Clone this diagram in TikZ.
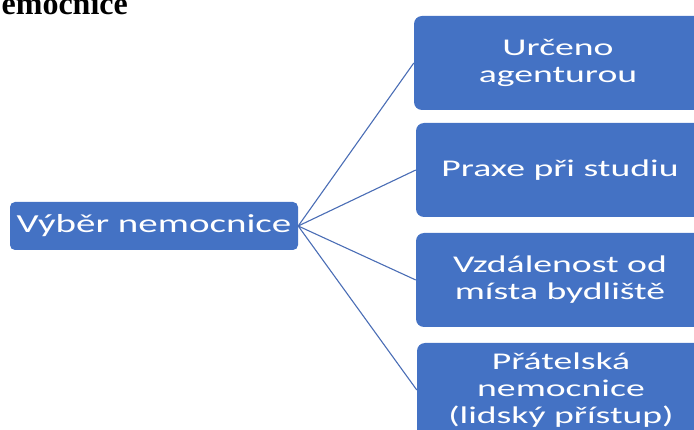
\documentclass[tikz,border=0pt]{standalone}
\usepackage{fontspec}
\usepackage{tikz}
\usetikzlibrary{positioning}
\newfontfamily\boxfont[FakeStretch=1.5]{Carlito}
\newfontfamily\reasonfont[FakeStretch=1.57]{Carlito}
\newfontfamily\titlefont{Liberation Serif}
\definecolor{boxblue}{HTML}{4472C4}
\definecolor{spokeblue}{HTML}{4A6DB5}

\begin{document}
\begin{tikzpicture}[x=1pt,y=1pt]
                    \tikzset{leftbox/.style={fill=boxblue, text=white, rounded corners=5pt, minimum width=288pt, minimum height=48pt, inner sep=0pt, font=\boxfont\fontsize{26}{30}\selectfont}}
                    \tikzset{rightbox/.style={fill=boxblue, text=white, rounded corners=8pt, minimum width=288pt, minimum height=94pt, inner sep=0pt, align=center, font=\reasonfont\fontsize{24}{27}\selectfont}}
                    \tikzset{spoke/.style={draw=spokeblue, line width=1.1pt}}
                    \useasboundingbox (0,0) rectangle (694,-430);
                    % nadpis (oriznuty)
                    \node [anchor=base east, inner sep=0pt, font=\titlefont\bfseries\fontsize{32}{36}\selectfont] (nadpis) at (128,-15) {Nemocnice};
                    % hlavni uzel
                    \node [leftbox] (vyber) at (154,-226) {Výběr nemocnice};
                    % duvody
                    \node [rightbox] (urceno) at (558,-63) {Určeno\\agenturou};
                    \node [rightbox] (praxe) at (560,-170) {Praxe při studiu};
                    \node [rightbox] (vzdalenost) at (560,-280) {Vzdálenost od\\místa bydliště};
                    \node [rightbox] (pratelska) at (561,-390) {Přátelská\\nemocnice\\(lidský přístup)};
                    % spojnice
                    \draw [spoke] (vyber.east) -- (urceno.west);
                    \draw [spoke] (vyber.east) -- (praxe.west);
                    \draw [spoke] (vyber.east) -- (vzdalenost.west);
                    \draw [spoke] (vyber.east) -- (pratelska.west);
\end{tikzpicture}
\end{document}
